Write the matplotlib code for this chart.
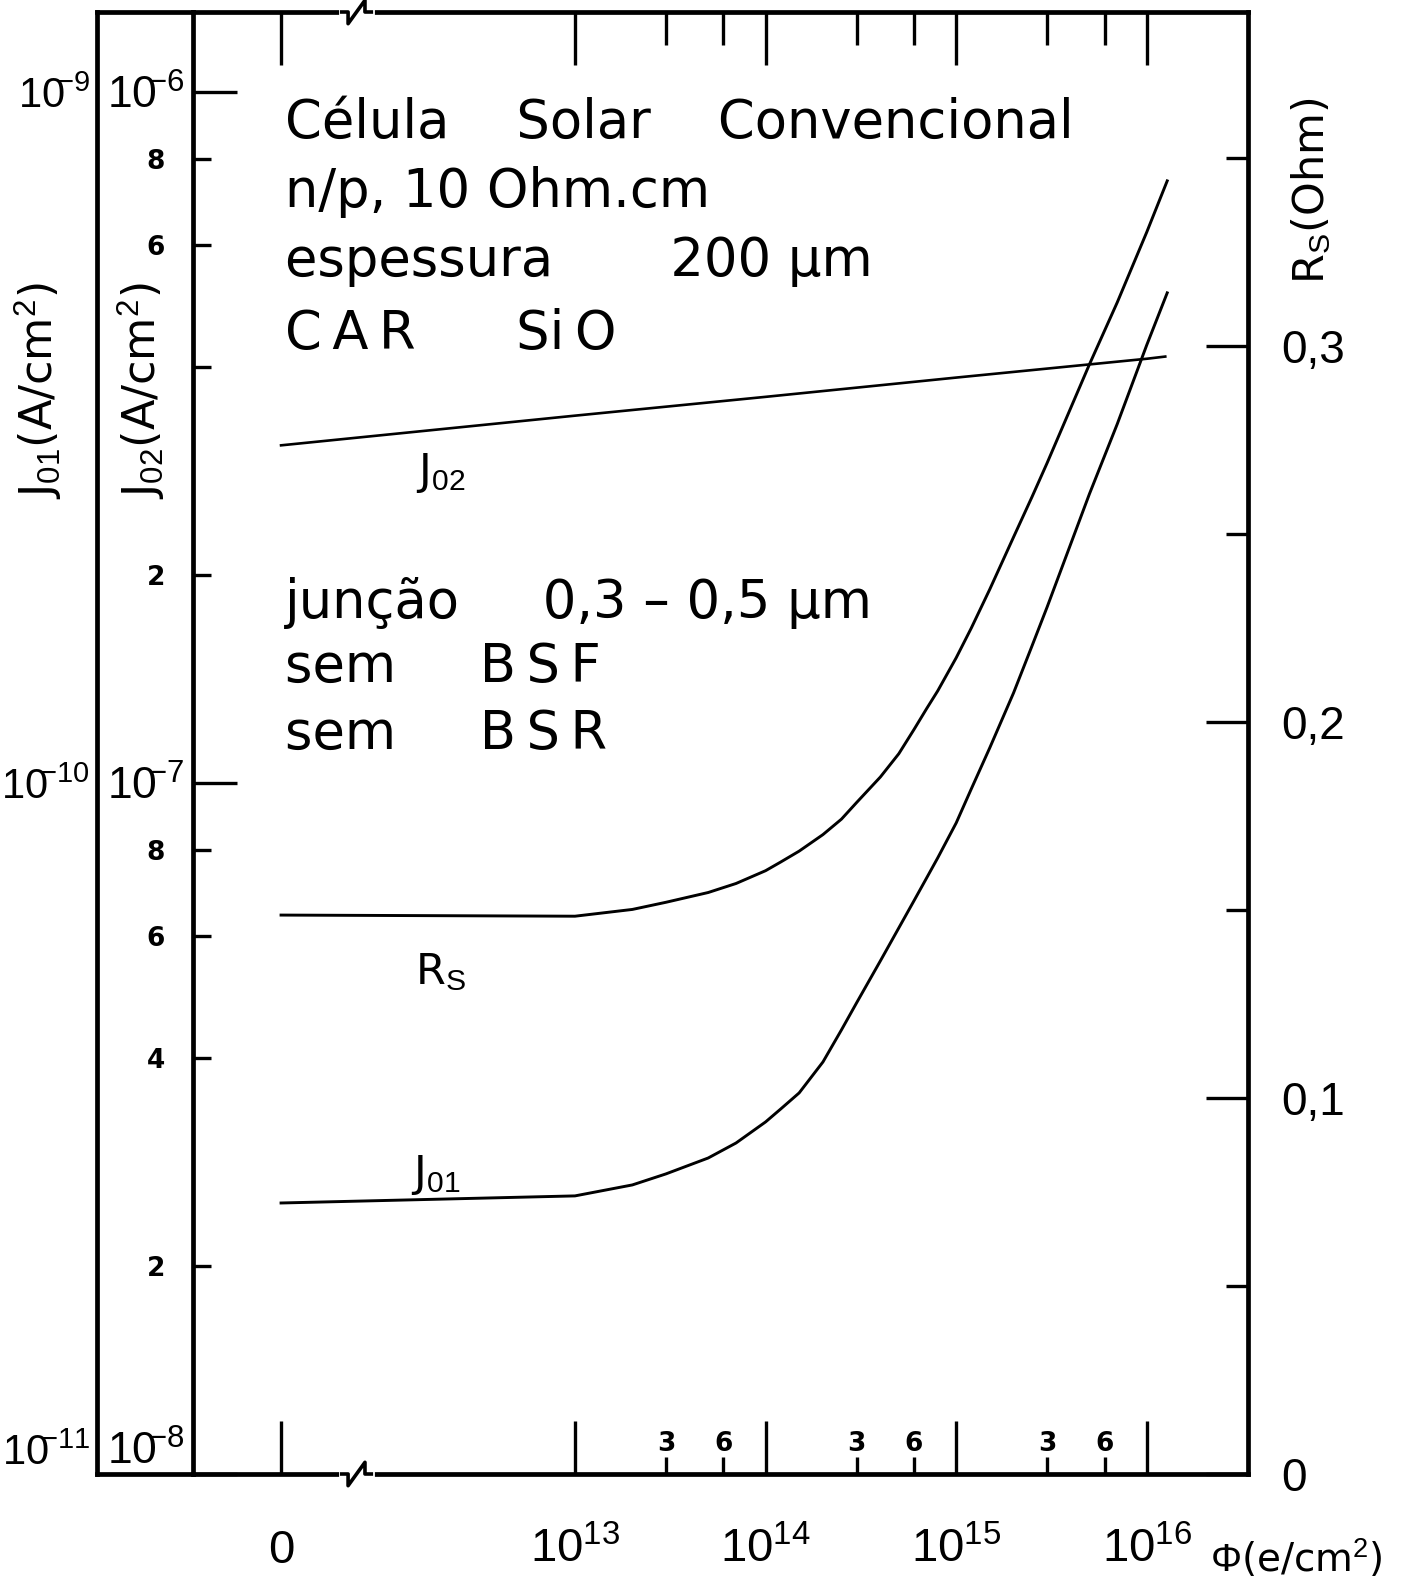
import numpy as np
import matplotlib
matplotlib.use('Agg')
import matplotlib.pyplot as plt
from matplotlib.ticker import NullLocator

plt.rcParams['font.family'] = ['DejaVu Sans']
# narrower digits for the numbers on the axes
plt.rcParams['mathtext.fontset'] = 'custom'
plt.rcParams['mathtext.rm'] = 'Liberation Sans'
plt.rcParams['mathtext.it'] = 'Liberation Sans:italic'
plt.rcParams['mathtext.bf'] = 'Liberation Sans:bold'

# electron fluence (e/cm2), 0 = unirradiated cell
flux_j02 = [0, 1e13, 1e14, 1e15, 1e16, 1.25e16]
j02 = [3.08e-7, 3.40e-7, 3.62e-7, 3.86e-7, 4.11e-7, 4.14e-7]

flux = [0, 1e13, 2e13, 3e13, 5e13, 7e13, 1e14, 1.2e14, 1.5e14, 2e14, 2.5e14, 3e14,
        4e14, 5e14, 6e14, 7e14, 8e14, 1e15, 1.2e15, 1.5e15, 2e15, 2.5e15, 3e15,
        5e15, 7e15, 1e16, 1.28e16]
rs = [0.1486, 0.1483, 0.1501, 0.1520, 0.1546, 0.1570, 0.1604, 0.1627, 0.1656, 0.1700,
      0.1741, 0.1785, 0.1853, 0.1915, 0.1979, 0.2035, 0.2082, 0.2170, 0.2249, 0.2352,
      0.2491, 0.2598, 0.2688, 0.2950, 0.3115, 0.3302, 0.3438]
j01 = [2.467e-11, 2.526e-11, 2.620e-11, 2.718e-11, 2.866e-11, 3.013e-11, 3.232e-11,
       3.374e-11, 3.560e-11, 3.947e-11, 4.391e-11, 4.804e-11, 5.526e-11, 6.169e-11,
       6.750e-11, 7.288e-11, 7.790e-11, 8.752e-11, 9.802e-11, 1.124e-10, 1.350e-10,
       1.579e-10, 1.797e-10, 2.619e-10, 3.307e-10, 4.304e-10, 5.119e-10]

x_major = [0, 1e13, 1e14, 1e15, 1e16]
x_major_labels = ['$0$', '$10^{13}$', '$10^{14}$', '$10^{15}$', '$10^{16}$']
x_minor = [3e13, 6e13, 3e14, 6e14, 3e15, 6e15]
x_minor_labels = ['3', '6', '3', '6', '3', '6']

j02_major = [1e-8, 1e-7, 1e-6]
j02_major_labels = ['$10^{\\!\\!{-}8}$', '$10^{\\!\\!{-}7}$', '$10^{\\!\\!{-}6}$']
j02_minor = [2e-8, 4e-8, 6e-8, 8e-8, 2e-7, 4e-7, 6e-7, 8e-7]
j02_minor_labels = ['2', '4', '6', '8', '2', '', '6', '8']
j01_major = [1e-11, 1e-10, 1e-9]
j01_major_labels = ['$10^{\\!\\!{-}11}$', '$10^{\\!\\!{-}10}$', '$10^{\\!\\!{-}9}$']
rs_major = [0, 0.1, 0.2, 0.3]
rs_major_labels = ['0', '0,1', '0,2', '0,3']
rs_minor = [0.05, 0.15, 0.25, 0.35]

T = '\u2009'  # thin space, the lettering is widely spaced
notes = ['Célula    Solar    Convencional', 'n/p, 10 Ohm.cm',
         'espessura       200 μm', f'C{T}A{T}R      Si{T}O',
         'junção     0,3 – 0,5 μm', f'sem     B{T}S{T}F', f'sem     B{T}S{T}R']

# broken flux axis: 0 sits left of the break, decades are logarithmic
ZERO_POS = 11.458


def fwd(phi):
    phi = np.asarray(phi, dtype=float)
    lin = ZERO_POS + (12 - ZERO_POS) * phi / 1e12
    lg = np.log10(np.where(phi > 1e12, phi, 1e12))
    return np.where(phi > 1e12, lg, lin)


def inv(u):
    u = np.asarray(u, dtype=float)
    ex = 10 ** np.clip(u, 0, 30)
    return np.where(u > 12, ex, (u - ZERO_POS) / (12 - ZERO_POS) * 1e12)


LW = 3.4
fig = plt.figure(figsize=(14.09, 15.82), dpi=100)
ax = fig.add_axes([193 / 1409, 1 - 1474 / 1582, 1055 / 1409, 1462 / 1582])
ax.set_xscale('function', functions=(fwd, inv))
ax.set_xlim(float(inv(10.996)), float(inv(16.531)))
ax.set_yscale('log')
ax.set_ylim(1e-8, 1.305e-6)
for s in ax.spines.values():
    s.set_linewidth(LW)

ax_j01 = ax.twinx()
ax_j01.set_yscale('log')
ax_j01.set_ylim(1e-11, 1.305e-9)
ax_rs = ax.twinx()
ax_rs.set_ylim(0, 0.3887)
ax_top = ax.twiny()
ax_top.set_xscale('function', functions=(fwd, inv))
ax_top.set_xlim(ax.get_xlim())

# curves
ax.plot(flux_j02, j02, color='k', lw=1.9)
ax_j01.plot(flux, j01, color='k', lw=2.1, solid_joinstyle='round')
ax_rs.plot(flux, rs, color='k', lw=2.1, solid_joinstyle='round')

# bottom flux axis
ax.set_xticks(x_major, x_major_labels)
ax.set_xticks(x_minor, x_minor_labels, minor=True)
ax.tick_params(axis='x', which='major', direction='in', length=38, width=2.4,
               labelsize=34, pad=64)
ax.tick_params(axis='x', which='minor', direction='in', length=12, width=2.4,
               labelsize=19, pad=-31)
for lbl in ax.get_xticklabels():
    lbl.set_va('baseline')
for lbl in ax.get_xticklabels(minor=True):
    lbl.set_fontweight('bold')
ax.set_xlabel(r'$\Phi$(e/cm$^2$)', fontsize=28)
ax.xaxis.set_label_coords(1.046, -0.058)
ax.xaxis.label.set_va('center')

# top ticks
ax_top.set_xticks(x_major, [])
ax_top.set_xticks(x_minor, [], minor=True)
ax_top.tick_params(axis='x', which='major', direction='in', length=38, width=2.4)
ax_top.tick_params(axis='x', which='minor', direction='in', length=24, width=2.4)
for s in ax_top.spines.values():
    s.set_visible(False)

# inner left axis: J02
ax.set_yticks(j02_major, j02_major_labels)
ax.set_yticks(j02_minor, j02_minor_labels, minor=True)
ax.tick_params(axis='y', which='major', direction='in', length=32, width=2.4,
               labelsize=32, pad=6)
ax.tick_params(axis='y', which='minor', direction='in', length=13, width=2.4,
               labelsize=19, pad=20)
for lbl in ax.get_yticklabels(minor=True):
    lbl.set_fontweight('bold')
ax.get_yticklabels()[0].set_va('bottom')
ax.set_ylabel(r'J$_{02}$(A/cm$^2$)', fontsize=32)
ax.yaxis.set_label_coords(-0.048, 0.741)
ax.yaxis.label.set_va('center')

# outer left axis: J01
ax_j01.yaxis.tick_left()
ax_j01.yaxis.set_label_position('left')
ax_j01.spines['left'].set_position(('outward', 69))
ax_j01.spines['left'].set_linewidth(LW)
for k in ['right', 'top', 'bottom']:
    ax_j01.spines[k].set_visible(False)
ax_j01.set_yticks(j01_major, j01_major_labels)
ax_j01.yaxis.set_minor_locator(NullLocator())
ax_j01.tick_params(axis='y', which='major', length=0, labelsize=30, pad=5)
ax_j01.get_yticklabels()[0].set_va('bottom')
ax_j01.set_ylabel(r'J$_{01}$(A/cm$^2$)', fontsize=32)
ax_j01.yaxis.set_label_coords(-0.146, 0.741)
ax_j01.yaxis.label.set_va('center')

# frame lines joining the outer axis
for yy in (0, 1):
    ax.plot([-0.091, 0], [yy, yy], transform=ax.transAxes, clip_on=False,
            color='k', lw=LW, solid_capstyle='projecting')

# right axis: Rs
ax_rs.set_yticks(rs_major, rs_major_labels)
ax_rs.set_yticks(rs_minor, [], minor=True)
ax_rs.tick_params(axis='y', which='major', direction='in', length=30, width=2.4,
                  labelsize=33, pad=24)
ax_rs.tick_params(axis='y', which='minor', direction='in', length=16, width=2.4)
for lbl in ax_rs.get_yticklabels():
    lbl.set_fontfamily('Liberation Sans')
for s in ax_rs.spines.values():
    s.set_visible(False)
ax_rs.set_ylabel(r'R$_\mathrm{S}$(Ohm)', fontsize=31, rotation=90)
ax_rs.yaxis.set_label_coords(1.06, 0.878)
ax_rs.yaxis.label.set_va('center')

# axis break marks
for yy in (0, 1):
    bx = 0.147
    ax.plot([bx - 0.006, bx + 0.022], [yy, yy], transform=ax.transAxes,
            clip_on=False, color='white', lw=LW + 1.5, zorder=5)
    ax.plot([bx - 0.006, bx, bx, bx + 0.016, bx + 0.016, bx + 0.022],
            [yy, yy, yy - 0.008, yy + 0.008, yy, yy], transform=ax.transAxes,
            clip_on=False, color='k', lw=2.6, zorder=6)

# text block
note_y = [0.924, 0.877, 0.830, 0.780, 0.596, 0.552, 0.506]
for txt, yy in zip(notes, note_y):
    ax.text(0.087, yy, txt, transform=ax.transAxes, fontsize=38, va='center',
            ha='left')

ax.text(0.235, 0.685, r'J$_{02}$', transform=ax.transAxes, fontsize=31,
        ha='center', va='center')
ax.text(0.235, 0.343, r'R$_\mathrm{S}$', transform=ax.transAxes, fontsize=31,
        ha='center', va='center')
ax.text(0.230, 0.2045, r'J$_{01}$', transform=ax.transAxes, fontsize=31,
        ha='center', va='center')

fig.savefig('out.png', dpi=100)
